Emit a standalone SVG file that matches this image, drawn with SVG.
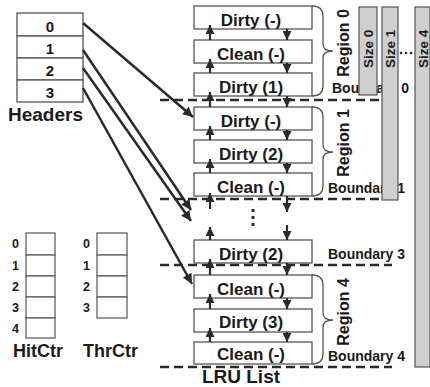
<svg xmlns="http://www.w3.org/2000/svg" width="430" height="387" viewBox="0 0 430 387">
<style>
text{font-family:"Liberation Sans",Arial,sans-serif;font-weight:bold;fill:#1a1a1a}
.box{fill:#fff;stroke:#555;stroke-width:1.3}
.lru{font-size:17px;text-anchor:middle}
.cell{fill:#fff;stroke:#555;stroke-width:1.2}
.dash{stroke:#2a2a2a;stroke-width:2.5;stroke-dasharray:9,5;fill:none}
.harr{stroke:#2a2a2a;stroke-width:2.5;fill:none;marker-end:url(#ah)}
.up{stroke:#2a2a2a;stroke-width:2.2;fill:none;marker-end:url(#sh)}
.brace{fill:none;stroke:#555;stroke-width:1.3}
.bar{fill:#cfcfcf;stroke:#555;stroke-width:1.2}
.bnd{font-size:14px}
.reg{font-size:16px;text-anchor:middle}
.size{font-size:13.5px}
.dig{font-size:15px;text-anchor:middle}
.lab{font-size:12.5px}
</style>
<defs>
<marker id="ah" viewBox="0 0 10 10" markerWidth="12" markerHeight="10" refX="10" refY="5" orient="auto" markerUnits="userSpaceOnUse"><path d="M0,0 L10,5 L0,10 z" fill="#2a2a2a"/></marker>
<marker id="sh" viewBox="0 0 10 10" markerWidth="9" markerHeight="9" refX="10" refY="5" orient="auto" markerUnits="userSpaceOnUse"><path d="M0,0 L10,5 L0,10 z" fill="#2a2a2a"/></marker>
</defs>

<g id="boundaries">
<line class="dash" x1="160" y1="100" x2="384" y2="100"/>
<line class="dash" x1="160" y1="199" x2="384" y2="199"/>
<line class="dash" x1="160" y1="265" x2="392" y2="265"/>
<line class="dash" x1="160" y1="367" x2="392" y2="367"/>
<text class="bnd" x="332" y="93">Boundary 0</text>
<text class="bnd" x="328" y="193">Boundary 1</text>
<text class="bnd" x="328" y="259">Boundary 3</text>
<text class="bnd" x="328" y="361">Boundary 4</text>
</g>

<g id="headers">
<rect class="box" x="17" y="13" width="66" height="23"/>
<rect class="box" x="17" y="36" width="66" height="22"/>
<rect class="box" x="17" y="58" width="66" height="22"/>
<rect class="box" x="17" y="80" width="66" height="22"/>
<text class="dig" x="50" y="32">0</text>
<text class="dig" x="50" y="53.5">1</text>
<text class="dig" x="50" y="76">2</text>
<text class="dig" x="50" y="98">3</text>
<text x="8" y="121" style="font-size:19px">Headers</text>
</g>

<g id="lru">
<rect class="box" x="194" y="6" width="118" height="23"/>
<rect class="box" x="194" y="40" width="118" height="23"/>
<rect class="box" x="194" y="73" width="118" height="23"/>
<rect class="box" x="194" y="107" width="118" height="23"/>
<rect class="box" x="194" y="140" width="118" height="23"/>
<rect class="box" x="194" y="173" width="118" height="23"/>
<rect class="box" x="194" y="240" width="118" height="23"/>
<rect class="box" x="194" y="275" width="118" height="23"/>
<rect class="box" x="194" y="309" width="118" height="23"/>
<rect class="box" x="194" y="342" width="118" height="22"/>
<text class="lru" x="251" y="25.5">Dirty (-)</text>
<text class="lru" x="251" y="59.5">Clean (-)</text>
<text class="lru" x="251" y="92.5">Dirty (1)</text>
<text class="lru" x="251" y="126.5">Dirty (-)</text>
<text class="lru" x="251" y="159.5">Dirty (2)</text>
<text class="lru" x="251" y="192.5">Clean (-)</text>
<text class="lru" x="251" y="259.5">Dirty (2)</text>
<text class="lru" x="251" y="294.5">Clean (-)</text>
<text class="lru" x="251" y="327.5">Dirty (3)</text>
<text class="lru" x="251" y="360">Clean (-)</text>
<rect x="251.5" y="209" width="3" height="3" fill="#2a2a2a"/>
<rect x="251.5" y="216" width="3" height="3" fill="#2a2a2a"/>
<rect x="251.5" y="223" width="3" height="3" fill="#2a2a2a"/>
<text x="241" y="383" style="font-size:19px;text-anchor:middle">LRU List</text>
</g>

<g id="connectors">
<line class="up" x1="210" y1="40" x2="210" y2="25"/>
<line class="up" x1="210" y1="73" x2="210" y2="59"/>
<line class="up" x1="210" y1="107" x2="210" y2="92"/>
<line class="up" x1="210" y1="140" x2="210" y2="126"/>
<line class="up" x1="210" y1="173" x2="210" y2="159"/>
<line class="up" x1="210" y1="209" x2="210" y2="193"/>
<line class="up" x1="210" y1="240" x2="210" y2="227"/>
<line class="up" x1="210" y1="275" x2="210" y2="259"/>
<line class="up" x1="210" y1="309" x2="210" y2="294"/>
<line class="up" x1="210" y1="342" x2="210" y2="328"/>
<line class="up" x1="287" y1="29" x2="287" y2="40"/>
<line class="up" x1="287" y1="63" x2="287" y2="73"/>
<line class="up" x1="287" y1="96" x2="287" y2="107"/>
<line class="up" x1="287" y1="130" x2="287" y2="140"/>
<line class="up" x1="287" y1="163" x2="287" y2="173"/>
<line class="up" x1="287" y1="196" x2="287" y2="212"/>
<line class="up" x1="287" y1="225" x2="287" y2="240"/>
<line class="up" x1="287" y1="263" x2="287" y2="275"/>
<line class="up" x1="287" y1="298" x2="287" y2="309"/>
<line class="up" x1="287" y1="332" x2="287" y2="342"/>
<line class="harr" x1="83" y1="23" x2="193" y2="117"/>
<line class="harr" x1="83" y1="50" x2="191" y2="210"/>
<line class="harr" x1="83" y1="68" x2="191" y2="221"/>
<line class="harr" x1="83" y1="88" x2="192" y2="284"/>
</g>

<g id="regions">
<path class="brace" d="M312,6 Q323,6 323,16 L323,44 Q323,51 333,51 Q323,51 323,58 L323,86 Q323,96 312,96"/>
<path class="brace" d="M312,107 Q323,107 323,117 L323,145 Q323,152 333,152 Q323,152 323,159 L323,186 Q323,196 312,196"/>
<path class="brace" d="M312,275 Q323,275 323,285 L323,313 Q323,320 333,320 Q323,320 323,327 L323,354 Q323,364 312,364"/>
<text class="reg" transform="translate(349,43) rotate(-90)">Region 0</text>
<text class="reg" transform="translate(349,143) rotate(-90)">Region 1</text>
<text class="reg" transform="translate(349,312) rotate(-90)">Region 4</text>
</g>

<g id="sizes">
<rect class="bar" x="359" y="7" width="18" height="88"/>
<rect class="bar" x="382" y="7" width="16" height="193"/>
<rect class="bar" x="415" y="7" width="15" height="360"/>
<text class="size" transform="translate(373,68) rotate(-90)">Size 0</text>
<text class="size" transform="translate(395,68) rotate(-90)">Size 1</text>
<text class="size" transform="translate(427.5,68) rotate(-90)">Size 4</text>
<circle cx="401" cy="53" r="1.3" fill="#2a2a2a"/>
<circle cx="406" cy="53" r="1.3" fill="#2a2a2a"/>
<circle cx="411" cy="53" r="1.3" fill="#2a2a2a"/>
</g>

<g id="hitctr">
<rect class="cell" x="26" y="233" width="29" height="22"/>
<rect class="cell" x="26" y="255" width="29" height="21"/>
<rect class="cell" x="26" y="276" width="29" height="21"/>
<rect class="cell" x="26" y="297" width="29" height="21"/>
<rect class="cell" x="26" y="318" width="29" height="20"/>
<text class="lab" x="12" y="248">0</text>
<text class="lab" x="12" y="270">1</text>
<text class="lab" x="12" y="291">2</text>
<text class="lab" x="12" y="312">3</text>
<text class="lab" x="12" y="333">4</text>
<text x="13" y="357" style="font-size:18px">HitCtr</text>
</g>

<g id="thrctr">
<rect class="cell" x="97" y="233" width="30" height="22"/>
<rect class="cell" x="97" y="255" width="30" height="21"/>
<rect class="cell" x="97" y="276" width="30" height="21"/>
<rect class="cell" x="97" y="297" width="30" height="21"/>
<text class="lab" x="83" y="248">0</text>
<text class="lab" x="83" y="270">1</text>
<text class="lab" x="83" y="291">2</text>
<text class="lab" x="83" y="312">3</text>
<text x="83" y="357" style="font-size:18px">ThrCtr</text>
</g>
</svg>
